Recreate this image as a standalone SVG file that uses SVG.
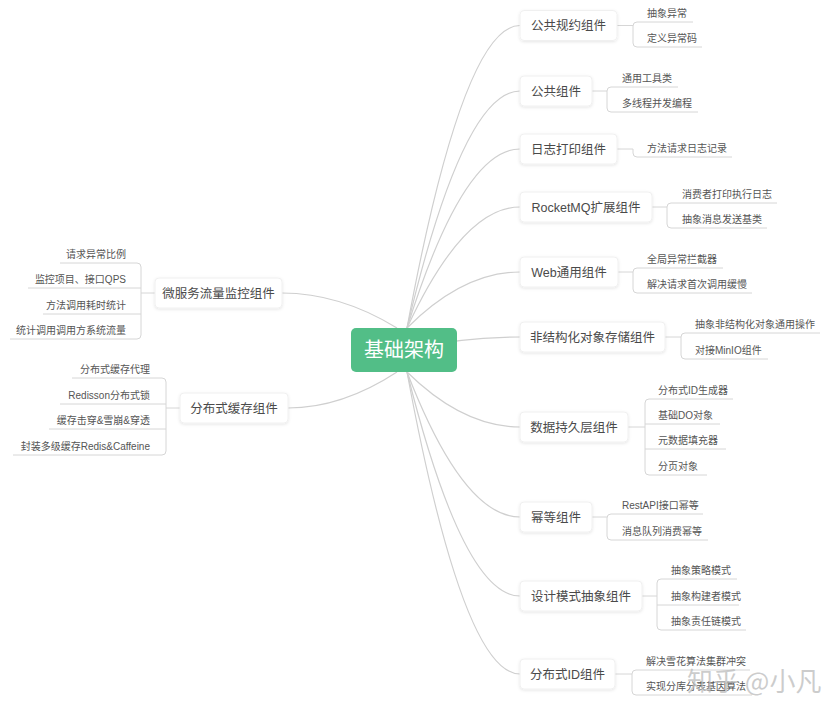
<svg xmlns="http://www.w3.org/2000/svg" width="839" height="717" viewBox="0 0 839 717">
<defs>
<filter id="sh" x="-10%" y="-30%" width="120%" height="160%">
<feDropShadow dx="0" dy="1" stdDeviation="1.5" flood-color="#000" flood-opacity="0.10"/>
</filter>
</defs>
<style>
text{font-family:"Liberation Sans","Noto Sans CJK SC",sans-serif;}
.box{fill:#fff;stroke:#f0f0f0;stroke-width:1;filter:url(#sh);}
.mt{font-size:12.5px;fill:#4a4a4a;text-anchor:middle;}
.ct{font-size:10px;fill:#555;}
.lt{font-size:10px;fill:#555;text-anchor:end;}
.cv{fill:none;stroke:#cfcfcf;stroke-width:1.2;}
.br{fill:none;stroke:#d6d6d6;stroke-width:1;}
</style>
<rect width="839" height="717" fill="#fff"/>
<g id="connectors">
<!-- main curves right -->
<path class="cv" d="M407,328 Q463,25.5 520,25.5"/>
<path class="cv" d="M407,328 Q463,91 520,91"/>
<path class="cv" d="M407,328 Q463,149 520,149"/>
<path class="cv" d="M407,328 Q463,207 520,207"/>
<path class="cv" d="M407,328 Q463,272 520,272"/>
<path class="cv" d="M404,350 Q461,337 520,337"/>
<path class="cv" d="M407,372 Q463,427 520,427"/>
<path class="cv" d="M407,372 Q463,517 520,517"/>
<path class="cv" d="M407,372 Q463,596 520,596"/>
<path class="cv" d="M407,372 Q463,674 520,674"/>
<!-- main curves left -->
<path class="cv" d="M397,328 Q340,293 282,293"/>
<path class="cv" d="M397,372 Q342,408 288,408"/>
<!-- brackets right -->
<path class="br" d="M617,25.5 H633"/>
<path class="br" d="M693,22 H637 Q633,22 633,26 V43 Q633,47 637,47 H702"/>
<path class="br" d="M592,91 H607"/>
<path class="br" d="M678,87 H611 Q607,87 607,91 V108 Q607,112 611,112 H698"/>
<path class="br" d="M617,149 H633 V153 Q633,157 637,157 H732"/>
<path class="br" d="M652,207 H667"/>
<path class="br" d="M777,203 H671 Q667,203 667,207 V224 Q667,228 671,228 H767"/>
<path class="br" d="M618,272 H633"/>
<path class="br" d="M723,268 H637 Q633,268 633,272 V289 Q633,293 637,293 H752"/>
<path class="br" d="M665,337 H681"/>
<path class="br" d="M820,333 H685 Q681,333 681,337 V355 Q681,359 685,359 H768"/>
<path class="br" d="M628,427 H645"/>
<path class="br" d="M733,399 H649 Q645,399 645,403 V471 Q645,475 649,475 H707"/>
<path class="br" d="M645,424 H720 M645,449 H726"/>
<path class="br" d="M592,517 H607"/>
<path class="br" d="M703,514 H611 Q607,514 607,518 V536 Q607,540 611,540 H708"/>
<path class="br" d="M642,596 H657"/>
<path class="br" d="M737,579 H661 Q657,579 657,583 V626 Q657,630 661,630 H746"/>
<path class="br" d="M657,605 H739"/>
<path class="br" d="M615,674 H632"/>
<path class="br" d="M750,670 H636 Q632,670 632,674 V691 Q632,695 636,695 H752"/>
<!-- brackets left -->
<path class="br" d="M155,293 H141"/>
<path class="br" d="M60,263 H137 Q141,263 141,267 V335 Q141,339 137,339 H10"/>
<path class="br" d="M141,288 H28 M141,314 H43"/>
<path class="br" d="M180,408 H166"/>
<path class="br" d="M72,378 H162 Q166,378 166,382 V451 Q166,455 162,455 H13"/>
<path class="br" d="M166,404 H60 M166,429 H49"/>
</g>
<g id="root">
<rect x="351" y="328" width="106" height="44" rx="5" fill="#52be87"/>
<text x="404" y="357" font-size="20" fill="#fff" text-anchor="middle">基础架构</text>
</g>
<g id="n1"><rect class="box" x="520" y="10.5" width="97" height="30" rx="4"/><text class="mt" x="568.5" y="30">公共规约组件</text></g>
<g id="n1c1"><text class="ct" x="647" y="17">抽象异常</text></g>
<g id="n1c2"><text class="ct" x="647" y="42">定义异常码</text></g>
<g id="n2"><rect class="box" x="520" y="76" width="72" height="30" rx="4"/><text class="mt" x="556" y="95.5">公共组件</text></g>
<g id="n2c1"><text class="ct" x="622" y="82">通用工具类</text></g>
<g id="n2c2"><text class="ct" x="622" y="107">多线程并发编程</text></g>
<g id="n3"><rect class="box" x="520" y="134" width="97" height="30" rx="4"/><text class="mt" x="568.5" y="153.5">日志打印组件</text></g>
<g id="n3c1"><text class="ct" x="647" y="152">方法请求日志记录</text></g>
<g id="n4"><rect class="box" x="520" y="192" width="132" height="30" rx="4"/><text class="mt" x="586" y="211.5">RocketMQ扩展组件</text></g>
<g id="n4c1"><text class="ct" x="682" y="198">消费者打印执行日志</text></g>
<g id="n4c2"><text class="ct" x="682" y="223">抽象消息发送基类</text></g>
<g id="n5"><rect class="box" x="520" y="257" width="98" height="30" rx="4"/><text class="mt" x="569" y="276.5">Web通用组件</text></g>
<g id="n5c1"><text class="ct" x="647" y="263">全局异常拦截器</text></g>
<g id="n5c2"><text class="ct" x="647" y="288">解决请求首次调用缓慢</text></g>
<g id="n6"><rect class="box" x="520" y="322" width="145" height="30" rx="4"/><text class="mt" x="592.5" y="341.5">非结构化对象存储组件</text></g>
<g id="n6c1"><text class="ct" x="695" y="328">抽象非结构化对象通用操作</text></g>
<g id="n6c2"><text class="ct" x="695" y="354">对接MinIO组件</text></g>
<g id="n7"><rect class="box" x="520" y="412" width="108" height="30" rx="4"/><text class="mt" x="574" y="431.5">数据持久层组件</text></g>
<g id="n7c1"><text class="ct" x="658" y="394">分布式ID生成器</text></g>
<g id="n7c2"><text class="ct" x="658" y="419">基础DO对象</text></g>
<g id="n7c3"><text class="ct" x="658" y="444">元数据填充器</text></g>
<g id="n7c4"><text class="ct" x="658" y="470">分页对象</text></g>
<g id="n8"><rect class="box" x="520" y="502" width="72" height="30" rx="4"/><text class="mt" x="556" y="521.5">幂等组件</text></g>
<g id="n8c1"><text class="ct" x="622" y="509">RestAPI接口幂等</text></g>
<g id="n8c2"><text class="ct" x="622" y="535">消息队列消费幂等</text></g>
<g id="n9"><rect class="box" x="520" y="581" width="122" height="30" rx="4"/><text class="mt" x="581" y="600.5">设计模式抽象组件</text></g>
<g id="n9c1"><text class="ct" x="671" y="574">抽象策略模式</text></g>
<g id="n9c2"><text class="ct" x="671" y="600">抽象构建者模式</text></g>
<g id="n9c3"><text class="ct" x="671" y="625">抽象责任链模式</text></g>
<g id="n10"><rect class="box" x="520" y="659" width="95" height="30" rx="4"/><text class="mt" x="567.5" y="678.5">分布式ID组件</text></g>
<g id="n10c1"><text class="ct" x="646" y="665">解决雪花算法集群冲突</text></g>
<g id="n10c2"><text class="ct" x="646" y="690">实现分库分表基因算法</text></g>
<g id="l1"><rect class="box" x="155" y="278" width="127" height="30" rx="4"/><text class="mt" x="218.5" y="297.5">微服务流量监控组件</text></g>
<g id="l1c1"><text class="lt" x="126" y="258">请求异常比例</text></g>
<g id="l1c2"><text class="lt" x="126" y="283">监控项目、接口QPS</text></g>
<g id="l1c3"><text class="lt" x="126" y="309">方法调用耗时统计</text></g>
<g id="l1c4"><text class="lt" x="126" y="334">统计调用调用方系统流量</text></g>
<g id="l2"><rect class="box" x="180" y="393" width="108" height="30" rx="4"/><text class="mt" x="234" y="412.5">分布式缓存组件</text></g>
<g id="l2c1"><text class="lt" x="150" y="373">分布式缓存代理</text></g>
<g id="l2c2"><text class="lt" x="150" y="399">Redisson分布式锁</text></g>
<g id="l2c3"><text class="lt" x="150" y="424">缓存击穿&amp;雪崩&amp;穿透</text></g>
<g id="l2c4"><text class="lt" x="150" y="450">封装多级缓存Redis&amp;Caffeine</text></g>
<g id="watermark"><text x="687" y="691" font-size="26" fill="#bcbcbc" fill-opacity="0.75" style="font-family:'Noto Sans CJK SC',sans-serif">知乎 @小凡</text></g>
</svg>
